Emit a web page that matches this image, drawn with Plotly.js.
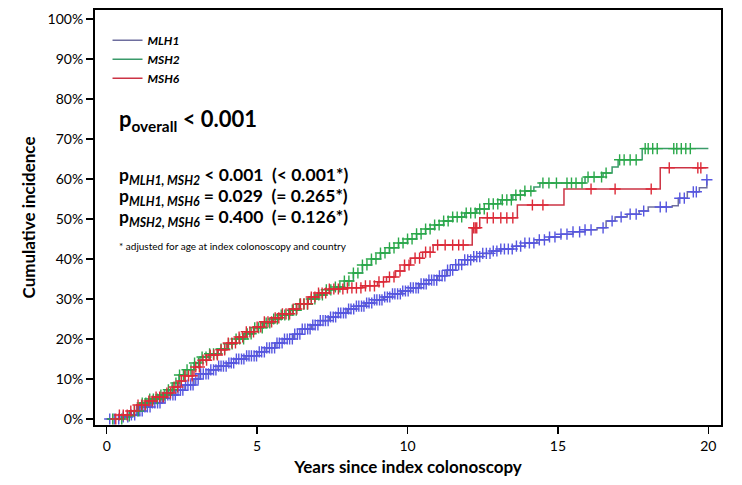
<!DOCTYPE html>
<html>
<head>
<meta charset="utf-8">
<script src="https://cdn.plot.ly/plotly-3.0.1.min.js"></script>
<style>html,body{margin:0;padding:0;background:#fff;}#chart{width:742px;height:485px;}</style>
</head>
<body>
<div id="chart"></div>
<script>
// ---- data (years, cumulative incidence %) ----
const seriesNames = ["MLH1", "MSH2", "MSH6"];

const mlh1Time = [0, 0.5, 0.8, 1.0, 1.2, 1.5, 1.8, 2.0, 2.3, 2.6, 2.9, 3.1, 3.4, 3.7, 4.0, 4.3, 4.6, 5.0, 5.3, 5.6, 5.9, 6.2, 6.5, 6.8, 7.1, 7.4, 7.7, 8.0, 8.3, 8.6, 8.9, 9.2, 9.5, 9.8, 10.1, 10.4, 10.7, 11.0, 11.3, 11.6, 11.9, 12.2, 12.5, 12.8, 13.1, 13.5, 13.9, 14.3, 14.7, 15.1, 15.5, 15.9, 16.3, 16.6, 16.9, 17.3, 17.7, 18.0, 18.8, 19.0, 19.3, 19.7, 19.95];
const mlh1Value = [0, 0.5, 1.0, 2.0, 3.0, 4.0, 5.2, 6.0, 7.2, 8.5, 10.0, 11.3, 12.3, 13.2, 14.0, 15.0, 15.8, 16.8, 17.8, 19.0, 20.0, 21.2, 22.5, 23.5, 24.6, 25.5, 26.5, 27.5, 28.2, 29.0, 29.8, 30.5, 31.3, 32.0, 32.8, 33.8, 34.7, 35.8, 37.2, 38.6, 39.8, 40.6, 41.4, 42.0, 42.5, 43.2, 44.0, 44.8, 45.5, 46.2, 46.8, 47.3, 47.8, 49.5, 50.5, 51.2, 52.0, 53.0, 53.3, 55.2, 56.8, 57.8, 59.8];
const mlh1Censor = [0.1, 0.25, 0.4, 0.55, 0.7, 0.82, 0.93, 1.02, 1.1, 1.18, 1.27, 1.35, 1.44, 1.52, 1.6, 1.69, 1.77, 1.86, 1.94, 2.03, 2.11, 2.2, 2.28, 2.37, 2.45, 2.53, 2.62, 2.7, 2.79, 2.87, 2.96, 3.04, 3.12, 3.21, 3.3, 3.38, 3.46, 3.55, 3.63, 3.72, 3.8, 3.88, 3.97, 4.06, 4.14, 4.22, 4.31, 4.39, 4.48, 4.56, 4.65, 4.73, 4.81, 4.9, 4.98, 5.07, 5.15, 5.24, 5.32, 5.41, 5.49, 5.58, 5.66, 5.74, 5.83, 5.91, 6.0, 6.08, 6.17, 6.25, 6.34, 6.42, 6.5, 6.59, 6.68, 6.76, 6.85, 6.93, 7.02, 7.1, 7.19, 7.27, 7.36, 7.44, 7.53, 7.61, 7.7, 7.78, 7.87, 7.95, 8.04, 8.12, 8.21, 8.3, 8.38, 8.47, 8.55, 8.64, 8.72, 8.81, 8.9, 8.98, 9.07, 9.15, 9.24, 9.33, 9.41, 9.5, 9.58, 9.67, 9.76, 9.84, 9.93, 10.02, 10.1, 10.19, 10.28, 10.36, 10.45, 10.54, 10.62, 10.71, 10.8, 10.88, 10.97, 11.06, 11.15, 11.24, 11.33, 11.42, 11.5, 11.6, 11.7, 11.8, 11.9, 12.0, 12.1, 12.2, 12.3, 12.4, 12.5, 12.62, 12.74, 12.85, 12.97, 13.1, 13.22, 13.35, 13.48, 13.62, 13.76, 13.9, 14.05, 14.2, 14.38, 14.55, 14.72, 14.9, 15.1, 15.3, 15.5, 15.72, 15.9, 16.1, 16.5, 16.8, 17.1, 17.4, 17.6, 17.85, 18.4, 18.6, 19.05, 19.2, 19.5, 19.6, 19.95];

const msh2Time = [0, 0.6, 0.9, 1.1, 1.4, 1.7, 2.0, 2.2, 2.4, 2.6, 2.9, 3.1, 3.4, 3.7, 4.0, 4.3, 4.6, 4.9, 5.2, 5.5, 5.8, 6.1, 6.4, 6.7, 7.0, 7.3, 7.6, 7.9, 8.2, 8.5, 8.8, 9.1, 9.4, 9.7, 10.0, 10.3, 10.6, 10.9, 11.2, 11.5, 11.9, 12.3, 12.7, 13.1, 13.5, 13.9, 14.2, 14.4, 15.9, 16.5, 16.8, 17.0, 17.8, 20.0];
const msh2Value = [0, 0.8, 2.0, 4.0, 5.0, 6.0, 7.3, 9.0, 11.0, 12.3, 14.0, 15.5, 16.3, 17.5, 18.8, 20.0, 21.3, 22.8, 24.0, 25.0, 26.0, 27.2, 28.7, 30.0, 31.0, 32.3, 33.0, 34.5, 36.5, 38.5, 40.0, 41.5, 42.8, 44.0, 45.0, 46.3, 47.5, 48.5, 49.5, 50.5, 51.5, 52.5, 53.8, 54.8, 56.0, 57.0, 58.0, 59.0, 60.5, 61.5, 63.0, 64.8, 67.6, 67.6];
const msh2Censor = [0.2, 0.5, 0.75, 0.92, 1.05, 1.18, 1.3, 1.43, 1.55, 1.68, 1.8, 1.93, 2.05, 2.17, 2.3, 2.42, 2.55, 2.67, 2.8, 2.92, 3.05, 3.17, 3.3, 3.42, 3.55, 3.67, 3.8, 3.92, 4.05, 4.17, 4.3, 4.42, 4.55, 4.67, 4.8, 4.92, 5.05, 5.17, 5.3, 5.42, 5.55, 5.67, 5.8, 5.92, 6.05, 6.17, 6.3, 6.42, 6.55, 6.67, 6.8, 6.92, 7.05, 7.17, 7.3, 7.45, 7.6, 7.75, 7.9, 8.05, 8.2, 8.35, 8.5, 8.65, 8.8, 8.95, 9.1, 9.25, 9.4, 9.55, 9.7, 9.85, 10.0, 10.15, 10.3, 10.45, 10.6, 10.75, 10.9, 11.05, 11.2, 11.35, 11.5, 11.65, 11.8, 11.95, 12.1, 12.25, 12.4, 12.55, 12.7, 12.85, 13.0, 13.15, 13.3, 13.45, 13.6, 13.75, 13.9, 14.1, 14.5, 14.7, 14.95, 15.3, 15.45, 15.6, 15.8, 16.0, 16.2, 16.45, 16.6, 17.05, 17.2, 17.4, 17.6, 17.9, 18.0, 18.15, 18.3, 18.85, 18.95, 19.1, 19.25, 19.4];

const msh6Time = [0, 0.4, 0.8, 1.0, 1.3, 1.6, 2.0, 2.2, 2.4, 2.6, 2.9, 3.1, 3.4, 3.7, 4.0, 4.3, 4.6, 4.9, 5.2, 5.5, 5.8, 6.1, 6.4, 6.7, 7.0, 7.4, 8.0, 8.5, 9.0, 9.3, 9.6, 9.9, 10.1, 10.5, 10.85, 12.15, 12.4, 13.65, 15.2, 18.4, 20.0];
const msh6Value = [0, 1.0, 2.0, 3.5, 4.5, 5.5, 6.5, 8.0, 9.5, 10.8, 13.0, 14.7, 16.0, 17.3, 19.0, 20.5, 21.8, 23.0, 24.3, 25.3, 26.3, 27.5, 28.8, 30.5, 31.5, 32.5, 32.8, 33.3, 34.3, 35.5, 37.0, 38.5, 40.2, 41.7, 43.5, 47.8, 50.3, 53.5, 57.5, 62.8, 62.8];
const msh6Censor = [0.3, 0.42, 0.55, 0.68, 0.8, 0.92, 1.04, 1.16, 1.28, 1.4, 1.52, 1.64, 1.76, 1.88, 2.0, 2.12, 2.24, 2.36, 2.48, 2.6, 2.72, 2.84, 2.96, 3.08, 3.2, 3.32, 3.44, 3.56, 3.68, 3.8, 3.92, 4.04, 4.16, 4.28, 4.4, 4.52, 4.64, 4.76, 4.88, 5.0, 5.12, 5.24, 5.36, 5.48, 5.6, 5.72, 5.84, 5.96, 6.08, 6.2, 6.32, 6.44, 6.56, 6.68, 6.8, 6.92, 7.04, 7.16, 7.28, 7.4, 7.55, 7.7, 7.85, 8.0, 8.15, 8.3, 8.45, 8.6, 8.75, 8.9, 9.05, 9.2, 9.4, 9.55, 9.75, 9.9, 10.05, 10.25, 10.4, 10.6, 10.75, 11.0, 11.25, 11.5, 11.7, 11.85, 12.2, 12.25, 12.3, 12.65, 12.85, 13.1, 13.3, 13.5, 14.15, 14.5, 16.1, 16.9, 18.1, 18.7, 19.65, 19.75];

const xTicks = [0, 5, 10, 15, 20];
const yTicks = [0, 10, 20, 30, 40, 50, 60, 70, 80, 90, 100];
const yTickLabels = ["0%", "10%", "20%", "30%", "40%", "50%", "60%", "70%", "80%", "90%", "100%"];

// ---- styles ----
const lineColors = ["#6e6e9e", "#3a9a6a", "#cc3344"];
const markColors = ["#5656e0", "#2aa84a", "#dd2a38"];
const FONT = "Lato, 'Open Sans', sans-serif";

function stepAt(times, vals, t) {
  let v = vals[0];
  for (let i = 0; i < times.length; i++) { if (times[i] <= t) v = vals[i]; else break; }
  return v;
}

const curves = [
  [mlh1Time, mlh1Value, mlh1Censor],
  [msh2Time, msh2Value, msh2Censor],
  [msh6Time, msh6Value, msh6Censor]
];

const traces = [];
curves.forEach((c, i) => {
  traces.push({
    x: c[0], y: c[1], type: "scatter", mode: "lines",
    line: {shape: "hv", color: lineColors[i], width: 1.5},
    name: seriesNames[i], showlegend: true, hoverinfo: "skip"
  });
});
curves.forEach((c, i) => {
  traces.push({
    x: c[2], y: c[2].map(t => stepAt(c[0], c[1], t)), type: "scatter", mode: "markers",
    marker: {symbol: "cross-thin", size: 8, color: markColors[i], line: {color: markColors[i], width: 1.4}},
    showlegend: false, hoverinfo: "skip"
  });
});

const layout = {
  width: 742, height: 485,
  margin: {l: 95, r: 21, t: 10, b: 60},
  paper_bgcolor: "#fff", plot_bgcolor: "#fff",
  font: {family: FONT, color: "#000", size: 14},
  showlegend: true,
  legend: {
    x: 0.02, y: 0.962, xanchor: "left", yanchor: "top",
    bgcolor: "rgba(0,0,0,0)", borderwidth: 0,
    font: {family: FONT, size: 12, weight: "bold", style: "italic", color: "#000"},
    tracegroupgap: 0, itemwidth: 30
  },
  xaxis: {
    range: [-0.39, 20.42], tickvals: xTicks, ticks: "outside", ticklen: 7, tickwidth: 1.3, tickcolor: "#000",
    showline: true, linecolor: "#000", linewidth: 2, mirror: true, showgrid: false, zeroline: false,
    tickfont: {family: FONT, size: 14},
    title: {text: "<b>Years since index colonoscopy</b>", font: {family: FONT, size: 17}, standoff: 8}
  },
  yaxis: {
    range: [-1.5, 102.25], tickvals: yTicks, ticktext: yTickLabels, ticks: "outside", ticklen: 7, tickwidth: 1.3, tickcolor: "#000",
    showline: true, linecolor: "#000", linewidth: 2, mirror: true, showgrid: false, zeroline: false,
    tickfont: {family: FONT, size: 14},
    title: {text: "<b>Cumulative incidence</b>", font: {family: FONT, size: 17}, standoff: 8}
  },
  annotations: [
    {xref: "paper", yref: "paper", x: 0.035, y: 0.735, xanchor: "left", yanchor: "middle", showarrow: false,
     text: "<b>p<sub>overall</sub> &lt; 0.001</b>", font: {family: FONT, size: 22}},
    {xref: "paper", yref: "paper", x: 0.035, y: 0.6, xanchor: "left", yanchor: "middle", showarrow: false,
     text: "<b>p<sub><i>MLH1, MSH2</i></sub> &lt; 0.001  (&lt; 0.001*)</b>", font: {family: FONT, size: 17.5}},
    {xref: "paper", yref: "paper", x: 0.035, y: 0.549, xanchor: "left", yanchor: "middle", showarrow: false,
     text: "<b>p<sub><i>MLH1, MSH6</i></sub> = 0.029  (= 0.265*)</b>", font: {family: FONT, size: 17.5}},
    {xref: "paper", yref: "paper", x: 0.035, y: 0.498, xanchor: "left", yanchor: "middle", showarrow: false,
     text: "<b>p<sub><i>MSH2, MSH6</i></sub> = 0.400  (= 0.126*)</b>", font: {family: FONT, size: 17.5}},
    {xref: "paper", yref: "paper", x: 0.035, y: 0.431, xanchor: "left", yanchor: "middle", showarrow: false,
     text: "* adjusted for age at index colonoscopy and country", font: {family: FONT, size: 10}}
  ]
};

Plotly.newPlot("chart", traces, layout, {displayModeBar: false, staticPlot: true});
</script>
</body>
</html>
